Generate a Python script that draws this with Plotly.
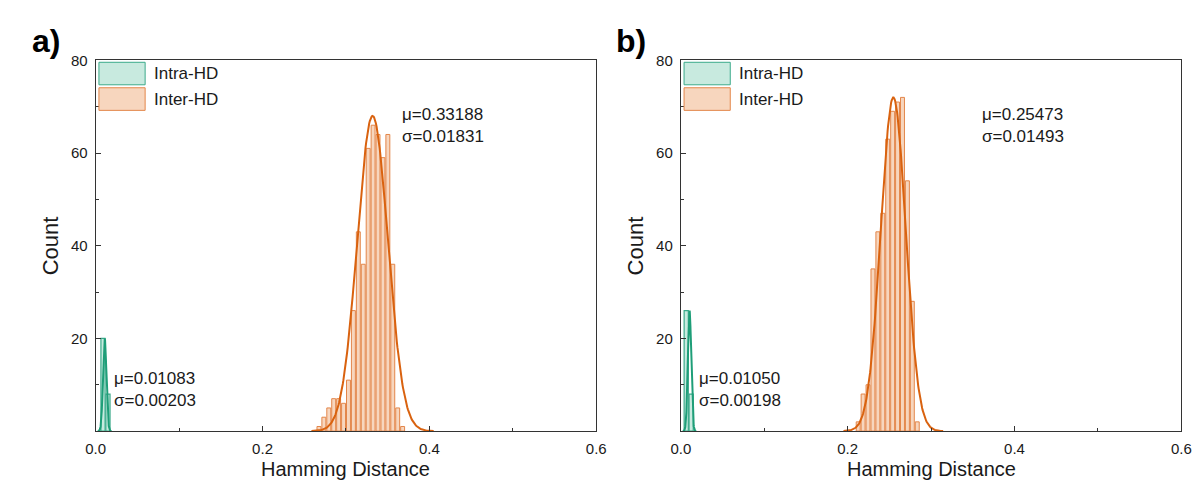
import numpy as np
import plotly.graph_objects as go

# ---- data ----
# panel a
a_inter_x = [0.2676, 0.2735, 0.2794, 0.2853, 0.2912, 0.2971, 0.3030, 0.3089, 0.3148,
             0.3207, 0.3266, 0.3325, 0.3384, 0.3443, 0.3502, 0.3561, 0.3620, 0.3679]
a_inter_y = [1, 3, 5, 7, 7, 6, 11, 26, 43, 36, 61, 66, 64, 59, 64, 36, 5, 1]
a_intra_x = [0.0088, 0.0147]
a_intra_y = [20, 8]
a_inter_fit = (0.33188, 0.01831, 68)   # mu, sigma, peak
a_intra_fit = (0.01083, 0.00203, 20)

# panel b
b_inter_x = [0.2126, 0.2185, 0.2244, 0.2303, 0.2362, 0.2421, 0.2480, 0.2539, 0.2598,
             0.2657, 0.2716, 0.2775, 0.2834]
b_inter_y = [2, 8, 10, 35, 43, 47, 63, 69, 71, 72, 54, 28, 2]
b_intra_x = [0.0065, 0.0124]
b_intra_y = [26, 8]
b_inter_fit = (0.25473, 0.01493, 72)
b_intra_fit = (0.01050, 0.00198, 26)

BIN = 0.0059

# colours
INTER_FILL, INTER_EDGE, INTER_LINE = "#F7D6BE", "#E3864A", "#D9620F"
INTRA_FILL, INTRA_EDGE, INTRA_LINE = "#C8EADF", "#3BAA8A", "#1E9E78"
FONT = "Arial, Liberation Sans, sans-serif"
TXT = "#1a1a1a"


def gauss(params):
    mu, sd, peak = params
    x = np.linspace(mu - 4 * sd, mu + 4 * sd, 200)
    return x, peak * np.exp(-0.5 * ((x - mu) / sd) ** 2)


fig = go.Figure()


def add_panel(xa, ya, inter_x, inter_y, intra_x, intra_y, inter_fit, intra_fit):
    fig.add_trace(go.Bar(x=intra_x, y=intra_y, width=BIN * 0.85, xaxis=xa, yaxis=ya,
                         marker=dict(color=INTRA_FILL, line=dict(color=INTRA_EDGE, width=1.2)),
                         showlegend=False))
    fig.add_trace(go.Bar(x=inter_x, y=inter_y, width=BIN * 0.8, xaxis=xa, yaxis=ya,
                         marker=dict(color=INTER_FILL, line=dict(color=INTER_EDGE, width=1)),
                         showlegend=False))
    gx, gy = gauss(intra_fit)
    fig.add_trace(go.Scatter(x=gx, y=gy, mode="lines", xaxis=xa, yaxis=ya,
                             line=dict(color=INTRA_LINE, width=2), showlegend=False))
    gx, gy = gauss(inter_fit)
    fig.add_trace(go.Scatter(x=gx, y=gy, mode="lines", xaxis=xa, yaxis=ya,
                             line=dict(color=INTER_LINE, width=2), showlegend=False))


add_panel("x", "y", a_inter_x, a_inter_y, a_intra_x, a_intra_y, a_inter_fit, a_intra_fit)
add_panel("x2", "y2", b_inter_x, b_inter_y, b_intra_x, b_intra_y, b_inter_fit, b_intra_fit)

xax = dict(range=[0, 0.6], tickvals=[0, 0.2, 0.4, 0.6], ticktext=["0.0", "0.2", "0.4", "0.6"],
           ticks="inside", ticklen=5, tickcolor="#333", showline=True, linecolor="#333",
           linewidth=1, mirror=True, showgrid=False, zeroline=False,
           minor=dict(tickvals=[0.1, 0.3, 0.5], ticks="inside", ticklen=3, tickcolor="#333"),
           tickfont=dict(size=15, color=TXT, family=FONT), ticklabelstandoff=4)
yax = dict(range=[0, 80], tickvals=[20, 40, 60, 80], ticks="inside", ticklen=5, tickcolor="#333",
           showline=True, linecolor="#333", linewidth=1, mirror=True, showgrid=False,
           zeroline=False,
           minor=dict(tickvals=[10, 30, 50, 70], ticks="inside", ticklen=3, tickcolor="#333"),
           tickfont=dict(size=15, color=TXT, family=FONT), ticklabelstandoff=4)

fig.update_layout(
    width=1204, height=485, margin=dict(l=0, r=0, t=0, b=0),
    paper_bgcolor="white", plot_bgcolor="white", barmode="overlay",
    xaxis=dict(xax, domain=[0.0656, 0.4884], anchor="y"),
    yaxis=dict(yax, domain=[0.130, 0.909], anchor="x"),
    xaxis2=dict(xax, domain=[0.5598, 0.9826], anchor="y2"),
    yaxis2=dict(yax, domain=[0.130, 0.909], anchor="x2"),
    font=dict(family=FONT, color=TXT),
)

ann = []
shapes = []
for xa, ya, lbl, px, mu_a, mu_b, txt_a, txt_b in [
    ("x", "y", "a)", 0.024, (0.3644, 66), (0.019, 9), "μ=0.33188<br>σ=0.01831", "μ=0.01083<br>σ=0.00203"),
    ("x2", "y2", "b)", 0.518, (0.3585, 66), (0.019, 9), "μ=0.25473<br>σ=0.01493", "μ=0.01050<br>σ=0.00198"),
]:
    ann.append(dict(x=mu_a[0], y=mu_a[1], xref=xa, yref=ya, text=txt_a, showarrow=False,
                    xanchor="left", yanchor="middle", align="left",
                    font=dict(size=17, color=TXT, family=FONT)))
    ann.append(dict(x=mu_b[0], y=mu_b[1], xref=xa, yref=ya, text=txt_b, showarrow=False,
                    xanchor="left", yanchor="middle", align="left",
                    font=dict(size=17, color=TXT, family=FONT)))
    # legend
    dx = xa + " domain"
    dy = ya + " domain"
    shapes.append(dict(type="rect", xref=dx, yref=dy, x0=0.0065, x1=0.0988, y0=0.934, y1=0.9947,
                       fillcolor=INTRA_FILL, line=dict(color=INTRA_EDGE, width=1)))
    shapes.append(dict(type="rect", xref=dx, yref=dy, x0=0.0065, x1=0.0988, y0=0.865, y1=0.926,
                       fillcolor=INTER_FILL, line=dict(color=INTER_EDGE, width=1)))
    ann.append(dict(x=0.113, y=0.964, xref=dx, yref=dy, text="Intra-HD", showarrow=False,
                    xanchor="left", yanchor="middle", font=dict(size=17, color=TXT, family=FONT)))
    ann.append(dict(x=0.113, y=0.8955, xref=dx, yref=dy, text="Inter-HD", showarrow=False,
                    xanchor="left", yanchor="middle", font=dict(size=17, color=TXT, family=FONT)))
    # axis titles
    ann.append(dict(x=0.5, y=-0.103, xref=dx, yref=dy, text="Hamming Distance", showarrow=False,
                    xanchor="center", yanchor="middle", font=dict(size=20, color=TXT, family=FONT)))
    ann.append(dict(x=-0.09, y=0.5, xref=dx, yref=dy, text="Count", showarrow=False,
                    textangle=-90, xanchor="center", yanchor="middle",
                    font=dict(size=22, color=TXT, family=FONT)))
    # panel label
    ann.append(dict(x=px, y=0.95, xref="paper", yref="paper", text="<b>" + lbl + "</b>",
                    showarrow=False, xanchor="center", yanchor="middle",
                    font=dict(size=32, color="black", family=FONT)))

fig.update_layout(annotations=ann, shapes=shapes)

fig.write_html("out.html")
